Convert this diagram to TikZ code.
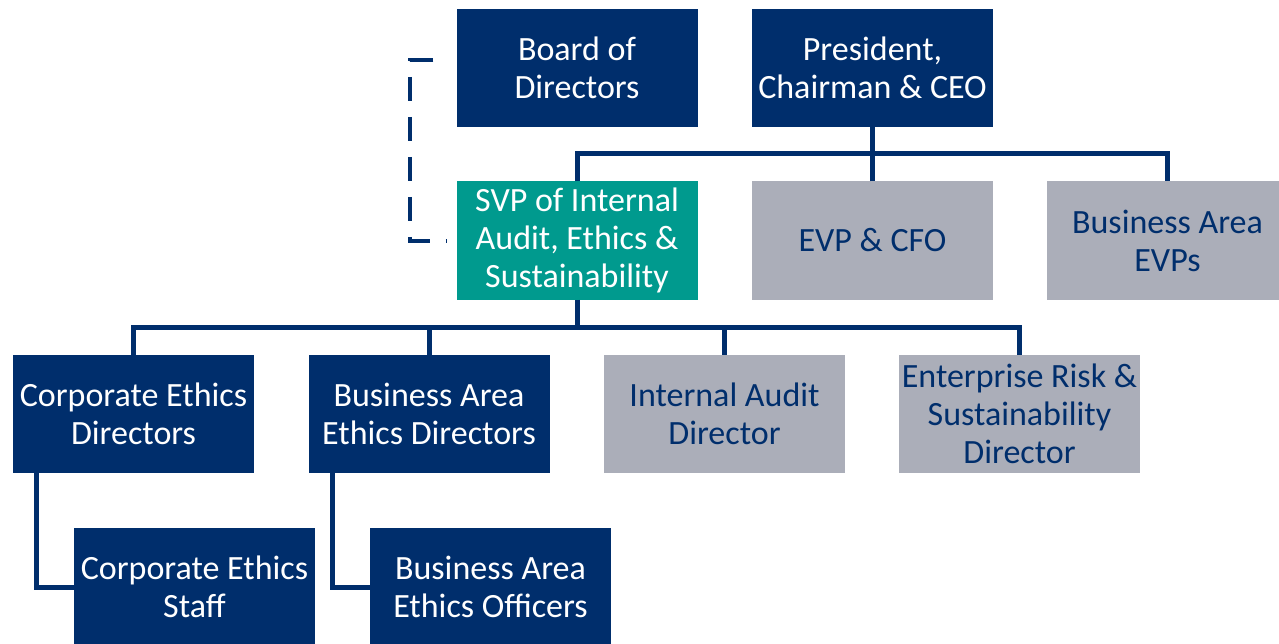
\documentclass[tikz,border=0pt]{standalone}
\usepackage{fontspec}
\setmainfont{Carlito}
\usetikzlibrary{calc}
\definecolor{navy}{HTML}{002E6C}
\definecolor{boxgray}{HTML}{ABAEB9}
\definecolor{teal}{HTML}{009A8E}
\begin{document}
\begin{tikzpicture}[x=1pt,y=-1pt,
  box/.style={rectangle, minimum width=241pt, minimum height=118pt, inner sep=0pt, align=center,
    font=\fontsize{34}{38}\selectfont},
  dark/.style={box, fill=navy, text=white},
  grey/.style={box, fill=boxgray, text=navy},
  green/.style={box, fill=teal, text=white},
  link/.style={draw=navy, line width=5pt},
  dlink/.style={draw=navy, line width=4pt, dash pattern=on 24pt off 16pt}]
\useasboundingbox (0,0) rectangle (1279,644);
\node[dark] (board) at (577,68) {Board of\\Directors};
\node[dark] (pres) at (872.5,68) {President,\\Chairman \& CEO};
\node[green] (svp) at (577,240.5) {SVP of Internal\\Audit, Ethics \&\\Sustainability};
\node[grey] (evp) at (872.5,240.5) {EVP \& CFO};
\node[grey] (baevp) at (1167.5,240.5) {Business Area\\EVPs};
\node[dark] (ced) at (133.5,414) {Corporate Ethics\\Directors};
\node[dark] (baed) at (429,414) {Business Area\\Ethics Directors};
\node[grey] (iad) at (724.5,414) {Internal Audit\\Director};
\node[grey] (erd) at (1019.5,414) {Enterprise Risk \&\\Sustainability\\Director};
\node[dark] (ces) at (194.5,587) {Corporate Ethics\\Staff};
\node[dark] (baeo) at (490.5,587) {Business Area\\Ethics Officers};
\coordinate (bus1) at (0,154);
\coordinate (bus2) at (0,327);
% top level bus
\draw[link] (pres.south) -- (pres.south |- bus1);
\draw[link] (svp.north) -- (svp.north |- bus1) -- (baevp.north |- bus1) -- (baevp.north);
\draw[link] (evp.north) -- (evp.north |- bus1);
% second level bus
\draw[link] (svp.south) -- (svp.south |- bus2);
\draw[link] (ced.north) -- (ced.north |- bus2) -- (erd.north |- bus2) -- (erd.north);
\draw[link] (baed.north) -- (baed.north |- bus2);
\draw[link] (iad.north) -- (iad.north |- bus2);
% elbows
\draw[link] ($(ced.south west)+(24,0)$) |- (ces.west);
\draw[link] ($(baed.south west)+(24,0)$) |- (baeo.west);
% dashed
\coordinate (d1) at ($(board.west)+(-23,-8)$);
\draw[dlink] (d1) -- ++(-23,0) |- ($(svp.west)+(-10,1)$);
\end{tikzpicture}
\end{document}
